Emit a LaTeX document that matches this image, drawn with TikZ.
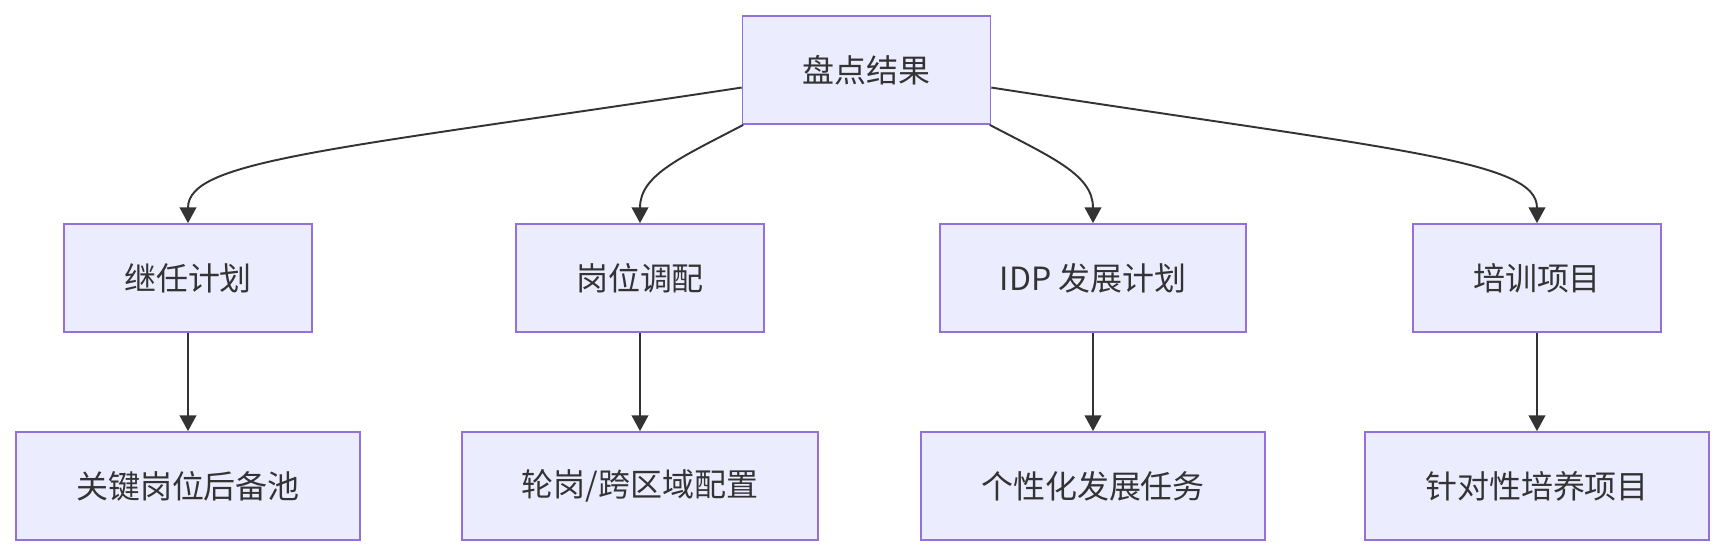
\documentclass[tikz,border=0pt]{standalone}
\usepackage{fontspec}
\setmainfont{Noto Sans CJK SC}
\usetikzlibrary{arrows.meta}
\definecolor{boxfill}{HTML}{ECECFF}
\definecolor{boxline}{HTML}{9370DB}
\definecolor{ink}{HTML}{333333}
\begin{document}
\begin{tikzpicture}[x=0.02cm,y=-0.02cm,
  bx/.style={rectangle,draw=boxline,fill=boxfill,line width=1pt,minimum height=2.16cm,
    inner xsep=1.2cm,text=ink,font=\fontsize{18.2pt}{22pt}\selectfont},
  ar/.style={draw=ink,line width=1.1pt,-{Triangle[length=9pt,width=9.5pt]}}]
 \useasboundingbox (0,0) rectangle (1724,556);
 \node[bx] (top) at (866.5,70) {盘点结果};
 \foreach \i/\x/\p/\q in {1/188/继任计划/关键岗位后备池,2/640/岗位调配/{轮岗/跨区域配置},
     3/1093/IDP 发展计划/个性化发展任务,4/1537/培训项目/针对性培养项目}{
   \node[bx] (a\i) at (\x,278) {\p};
   \node[bx] (b\i) at (\x,486) {\q};
   \draw[ar] (a\i) -- (b\i);}
 \draw[ar] (top.188) .. controls (330,150) and (188,160) .. (a1.north);
 \draw[ar] (top.204) .. controls (680,158) and (640,175) .. (a2.north);
 \draw[ar] (top.336) .. controls (1053,158) and (1093,175) .. (a3.north);
 \draw[ar] (top.352) .. controls (1395,150) and (1537,160) .. (a4.north);
\end{tikzpicture}
\end{document}
